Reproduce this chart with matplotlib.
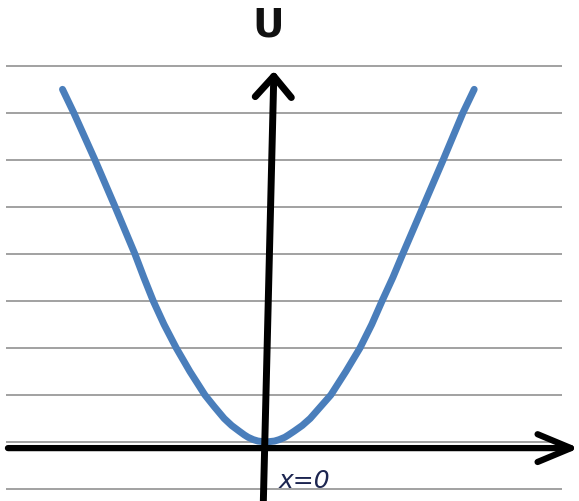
import matplotlib
matplotlib.use("Agg")
import matplotlib.pyplot as plt
from matplotlib.patches import FancyArrowPatch

# Potential energy curve U(x): left and right branches
u_levels = [7.5, 7.0, 6.0, 5.0, 4.0, 3.5, 3.0, 2.5, 2.0, 1.5, 1.0, 0.75,
            0.5, 0.35, 0.23, 0.15, 0.1, 0.05, 0.02, 0.0]
x_left = [-4.33, -4.09, -3.64, -3.21, -2.79, -2.60, -2.40, -2.17, -1.91,
          -1.62, -1.30, -1.10, -0.89, -0.73, -0.57, -0.46, -0.38, -0.27,
          -0.17, 0.0]
x_right = [4.43, 4.19, 3.77, 3.34, 2.91, 2.70, 2.47, 2.25, 2.00,
           1.70, 1.38, 1.16, 0.94, 0.77, 0.60, 0.48, 0.40, 0.28,
           0.18, 0.0]

x_vals = x_left + x_right[::-1][1:]
u_vals = u_levels + u_levels[::-1][1:]

# Horizontal ruling behind the curve
grid_levels = [-1, 0, 1, 2, 3, 4, 5, 6, 7, 8]

y_label = "U"
x_label = "x=0"

fig = plt.figure(figsize=(5.79, 5.01), dpi=100)
ax = fig.add_axes([0, 0, 1, 1])
ax.set_xlim(-5.66, 6.66)
ax.set_ylim(-1.255, 9.40)
ax.axis("off")

# Ruled lines
ax.hlines(grid_levels, -5.53, 6.30, colors="#9a9a9a", linewidth=1.3, zorder=1)

# Curve
ax.plot(x_vals, u_vals, color="#4a7ebb", linewidth=5, solid_capstyle="round",
        solid_joinstyle="round", zorder=3)

# Axes drawn as thick arrows
x_arrow = FancyArrowPatch((-5.55, -0.13), (6.72, -0.13),
                          arrowstyle="->,head_length=24,head_width=10",
                          mutation_scale=1, color="black", linewidth=4.5,
                          joinstyle="round", capstyle="round", zorder=4)
y_arrow = FancyArrowPatch((-0.06, -1.40), (0.17, 7.95),
                          arrowstyle="->,head_length=15,head_width=13",
                          mutation_scale=1, color="black", linewidth=5,
                          joinstyle="round", capstyle="round", zorder=4)
ax.add_patch(x_arrow)
ax.add_patch(y_arrow)

# Labels
ax.text(0.04, 8.85, y_label, ha="center", va="center", fontsize=28,
        fontweight="bold", color="#111111", zorder=5)
ax.text(0.27, -0.82, x_label, ha="left", va="center", fontsize=18,
        fontstyle="italic", color="#1c2550", zorder=5)

fig.savefig("out.png", dpi=100)
